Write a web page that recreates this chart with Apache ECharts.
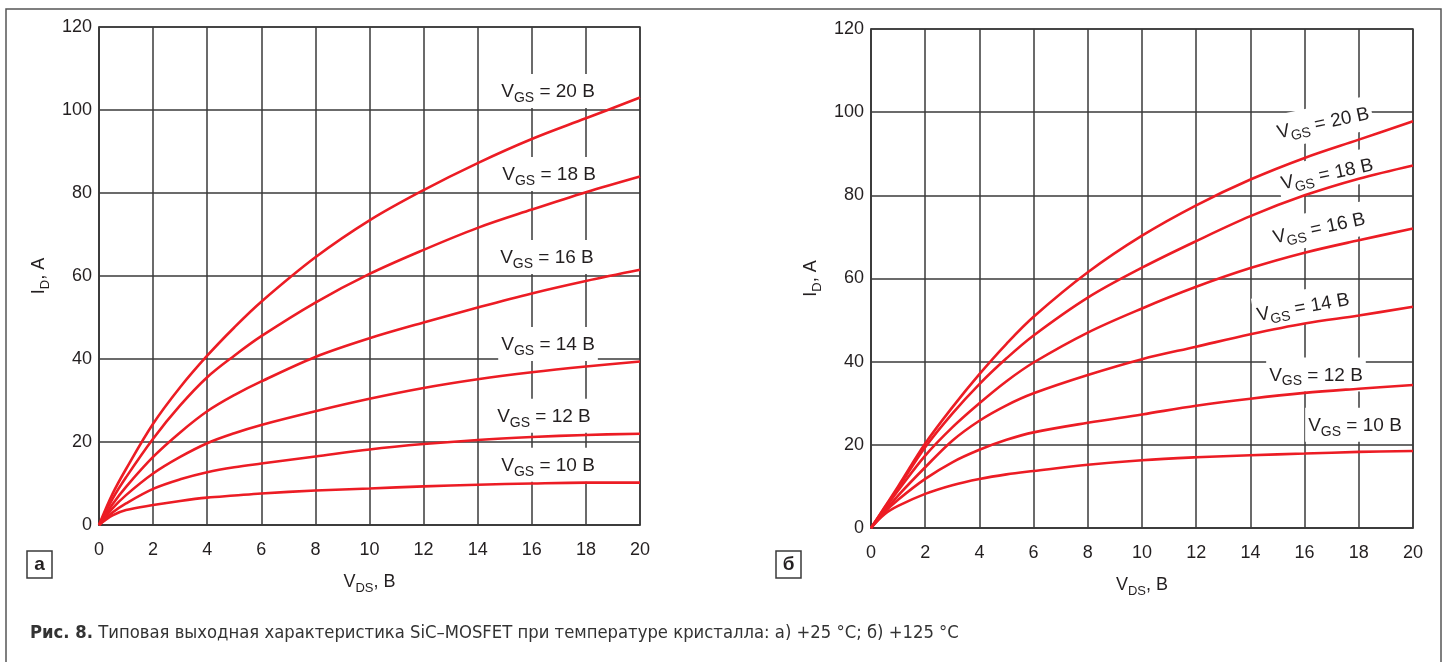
<!DOCTYPE html>
<html>
<head>
<meta charset="utf-8">
<script src="https://cdn.jsdelivr.net/npm/echarts@6/dist/echarts.min.js"></script>
<style>
html, body { margin: 0; padding: 0; background: #fff; }
#chart { width: 1444px; height: 662px; }
</style>
</head>
<body>
<div id="chart"></div>
<script>
// V_DS, В
var vds = [0, 0.5, 1, 2, 3, 4, 5, 6, 8, 10, 12, 14, 16, 18, 20];
var vgs = ['20', '18', '16', '14', '12', '10'];

// а) +25 °C, I_D, А
var a20 = [0, 7.5, 13.5, 24.4, 33.2, 40.8, 47.6, 53.8, 64.5, 73.4, 80.7, 87.2, 93, 98, 103];
var a18 = [0, 6.3, 11.5, 20.8, 28.8, 35.6, 40.8, 45.5, 53.6, 60.5, 66.3, 71.6, 76, 80.2, 84];
var a16 = [0, 5, 9.2, 16.4, 22.3, 27.4, 31.3, 34.6, 40.5, 45, 48.8, 52.4, 55.8, 58.8, 61.5];
var a14 = [0, 4, 7.2, 12.4, 16.4, 19.7, 22.1, 24.1, 27.4, 30.4, 33, 35.1, 36.8, 38.2, 39.4];
var a12 = [0, 3, 5.2, 8.7, 11, 12.7, 13.9, 14.8, 16.5, 18.2, 19.5, 20.5, 21.2, 21.7, 22];
var a10 = [0, 2.3, 3.6, 4.8, 5.8, 6.6, 7.1, 7.6, 8.3, 8.8, 9.3, 9.7, 10, 10.2, 10.2];

// б) +125 °C
var b20 = [0, 5, 10, 20.3, 29, 37, 44.3, 50.8, 61.5, 70.3, 77.6, 83.8, 89, 93.4, 97.8];
var b18 = [0, 4.8, 9.6, 19.4, 27.5, 34.6, 40.8, 46.3, 55.4, 62.6, 69, 75, 80, 84, 87.2];
var b16 = [0, 4.5, 9, 17.4, 24.2, 30, 35.3, 39.8, 47, 52.8, 58, 62.5, 66.2, 69.2, 72];
var b14 = [0, 4, 7.8, 14.6, 21, 25.8, 29.5, 32.4, 36.8, 40.6, 43.6, 46.6, 49.2, 51.1, 53.2];
var b12 = [0, 3.8, 6.8, 11.8, 15.8, 18.8, 21.2, 23, 25.3, 27.3, 29.4, 31.1, 32.5, 33.5, 34.4];
var b10 = [0, 3.3, 5.3, 8.2, 10.3, 11.8, 12.9, 13.7, 15.2, 16.3, 17, 17.5, 17.9, 18.3, 18.5];

var xTicks = [0, 20, 2];   // min, max, step
var yTicks = [0, 120, 20];

// where the V_GS captions sit (in axis units) and their tilt
var labPosA = [[16.6, 104.6], [16.64, 84.6], [16.56, 64.6], [16.6, 43.6], [16.45, 26.3], [16.6, 14.5]];
var labPosB = [[16.68, 97.5], [16.83, 85.2], [16.53, 72.2], [15.94, 53.2], [16.42, 36.9], [17.86, 24.8]];
var labRotB = [12, 12, 12, 10, 0, 0];

var RED = '#ec1c24';
var GRIDC = '#3a3a3a';
var TXT = '#231f20';
var FONT = '"Liberation Sans", Arial, sans-serif';
var NARROW = '"Liberation Sans Narrow", "DejaVu Sans Condensed", sans-serif';

function pairs(ys) {
	var out = [];
	for (var i = 0; i < vds.length; i++) out.push([vds[i], ys[i]]);
	return out;
}

function curve(idx, ys) {
	return {
		type : 'line',
		xAxisIndex : idx,
		yAxisIndex : idx,
		data : pairs(ys),
		smooth : 0.35,
		showSymbol : false,
		silent : true,
		z : 3,
		lineStyle : { color : RED, width : 2.6 }
	};
}

function tags(idx, pos, rot) {
	var d = [];
	for (var i = 0; i < vgs.length; i++) {
		d.push({ value : pos[i], name : vgs[i], label : { rotate : rot ? rot[i] : 0 } });
	}
	return {
		type : 'scatter',
		xAxisIndex : idx,
		yAxisIndex : idx,
		symbolSize : 0,
		silent : true,
		z : 2,
		itemStyle : { opacity : 1 },
		data : d,
		label : {
			show : true,
			position : 'inside',
			opacity : 1,
			backgroundColor : '#fff',
			padding : [5, 3, 3, 3],
			color : TXT,
			fontFamily : FONT,
			fontSize : 19,
			formatter : function(p) { return 'V{s|GS} = ' + p.name + ' В'; },
			rich : {
				s : { fontSize : 14, fontFamily : FONT, color : TXT, padding : [12, 0, 0, 0] }
			}
		}
	};
}

var subRich = { s : { fontSize : 13, fontFamily : FONT, color : TXT, padding : [12, 0, 0, 0] } };

function xAx(idx) {
	return {
		type : 'value', gridIndex : idx,
		min : xTicks[0], max : xTicks[1], interval : xTicks[2],
		name : 'V{s|DS}, В', nameLocation : 'middle', nameGap : 45,
		nameTextStyle : { color : TXT, fontFamily : FONT, fontSize : 18, rich : subRich },
		axisLine : { show : true, lineStyle : { color : GRIDC, width : 1.5 } },
		axisTick : { show : false },
		axisLabel : { color : TXT, fontFamily : FONT, fontSize : 18, margin : 16 },
		splitLine : { show : true, lineStyle : { color : GRIDC, width : 1.5 } }
	};
}

function yAx(idx) {
	return {
		type : 'value', gridIndex : idx,
		min : yTicks[0], max : yTicks[1], interval : yTicks[2],
		name : 'I{s|D}, А', nameLocation : 'middle', nameGap : 47,
		nameTextStyle : { color : TXT, fontFamily : FONT, fontSize : 18, rich : subRich },
		axisLine : { show : true, lineStyle : { color : GRIDC, width : 1.5 } },
		axisTick : { show : false },
		axisLabel : { color : TXT, fontFamily : FONT, fontSize : 18, margin : 7 },
		splitLine : { show : true, lineStyle : { color : GRIDC, width : 1.5 } }
	};
}

var chart = echarts.init(document.getElementById('chart'), null, { renderer : 'canvas' });
chart.setOption({
	backgroundColor : '#fff',
	animation : false,
	grid : [
		{ left : 99, top : 27, width : 541, height : 498, show : true, borderColor : GRIDC, borderWidth : 1.5 },
		{ left : 871, top : 29, width : 542, height : 499, show : true, borderColor : GRIDC, borderWidth : 1.5 }
	],
	xAxis : [xAx(0), xAx(1)],
	yAxis : [yAx(0), yAx(1)],
	series : [
		tags(0, labPosA, null),
		curve(0, a20), curve(0, a18), curve(0, a16), curve(0, a14), curve(0, a12), curve(0, a10),
		tags(1, labPosB, labRotB),
		curve(1, b20), curve(1, b18), curve(1, b16), curve(1, b14), curve(1, b12), curve(1, b10)
	],
	graphic : [
		// frame
		{ type : 'rect', shape : { x : 6, y : 9, width : 1435, height : 700 }, silent : true,
		  style : { fill : null, stroke : '#555', lineWidth : 1.5 } },
		// panel marks
		{ type : 'rect', shape : { x : 27, y : 551, width : 25, height : 27 },
		  style : { fill : '#fff', stroke : GRIDC, lineWidth : 1.5 } },
		{ type : 'text', x : 39.5, y : 565,
		  style : { text : 'а', fill : TXT, font : 'bold 19px ' + FONT, align : 'center', verticalAlign : 'middle' } },
		{ type : 'rect', shape : { x : 776, y : 551, width : 25, height : 27 },
		  style : { fill : '#fff', stroke : GRIDC, lineWidth : 1.5 } },
		{ type : 'text', x : 788.5, y : 565,
		  style : { text : 'б', fill : TXT, font : 'bold 19px ' + FONT, align : 'center', verticalAlign : 'middle' } },
		// caption
		{ type : 'text', x : 30, y : 633,
		  style : {
			text : '{b|Рис. 8.} Типовая выходная характеристика SiC–MOSFET при температуре кристалла: а) +25 °C; б) +125 °C',
			fill : '#333', font : '18.3px ' + NARROW,
			verticalAlign : 'middle',
			rich : { b : { fontWeight : 'bold', fontFamily : NARROW, fontSize : 18.3, fill : '#333' } }
		  } }
	]
});
</script>
</body>
</html>
